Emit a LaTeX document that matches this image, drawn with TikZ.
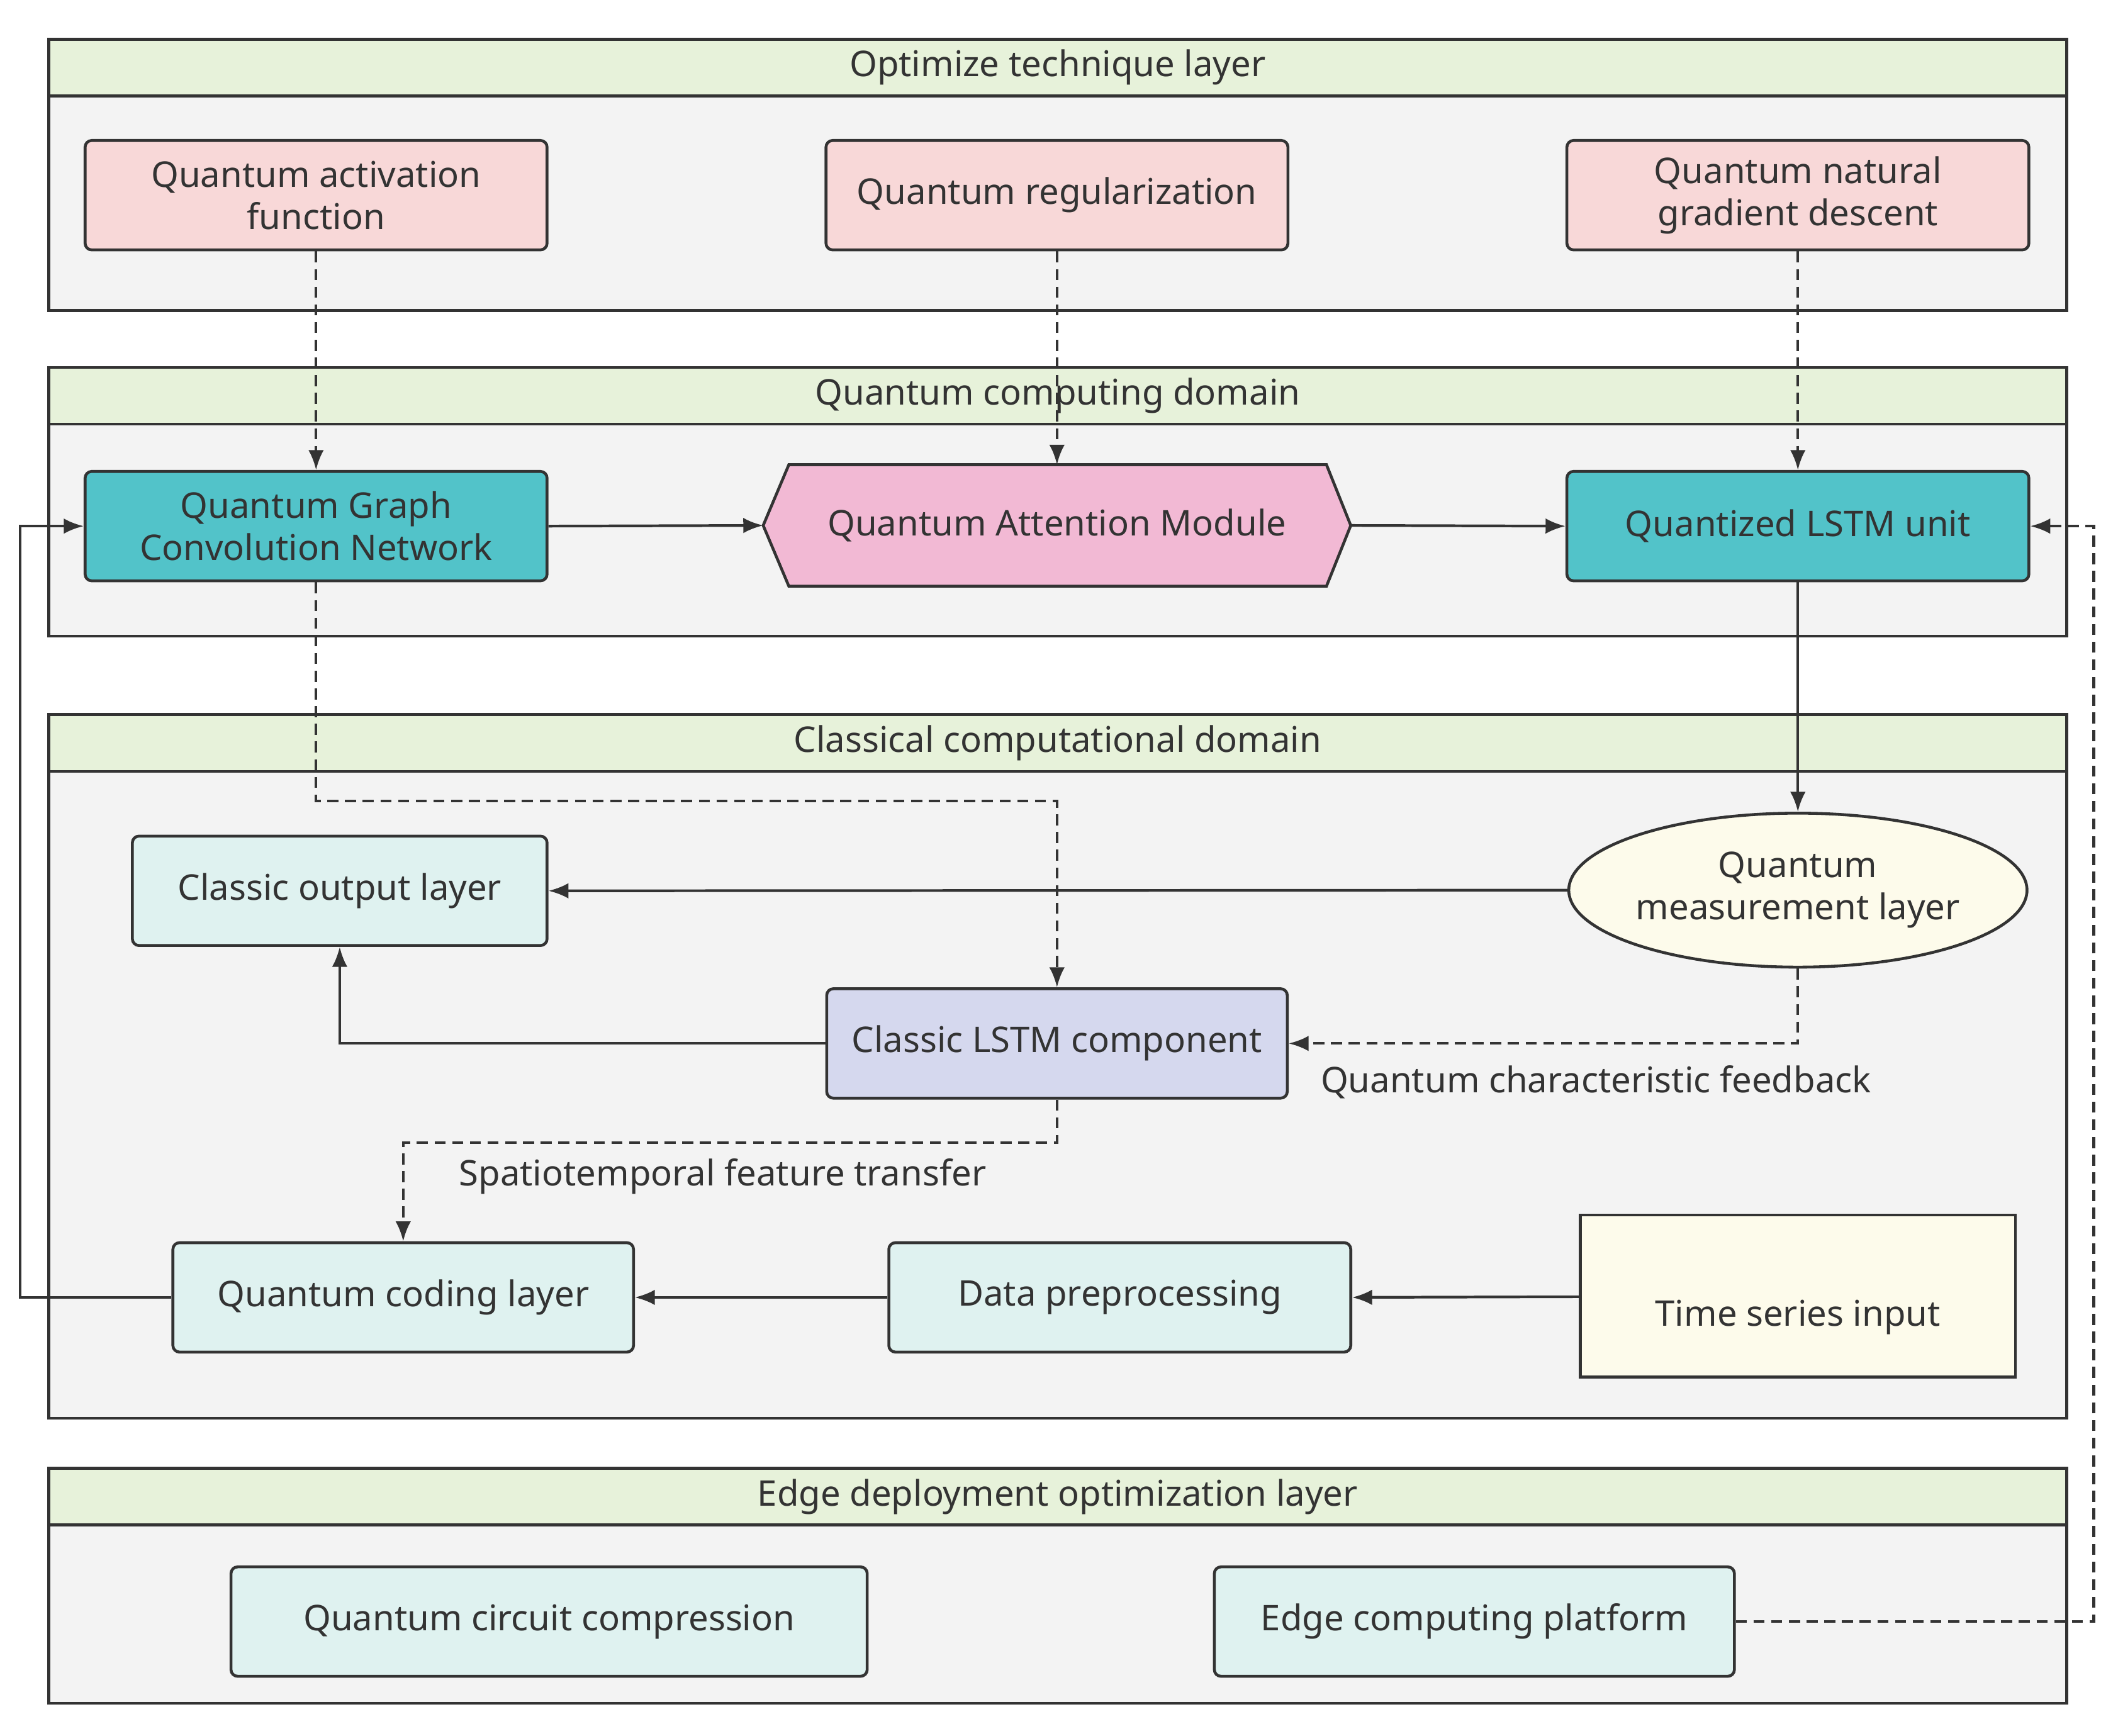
\documentclass[tikz,border=0pt]{standalone}
\usepackage{fontspec}
\setmainfont{Noto Sans}
\usetikzlibrary{shapes.geometric,arrows.meta}
\def\u{0.021467cm}
\definecolor{bgc}{HTML}{F3F3F3}
\definecolor{hdr}{HTML}{E7F2DA}
\definecolor{pinkb}{HTML}{F8D8D8}
\definecolor{tealb}{HTML}{52C3C9}
\definecolor{hexc}{HTML}{F2B9D4}
\definecolor{cyanb}{HTML}{DFF2F0}
\definecolor{cream}{HTML}{FDFBEB}
\definecolor{lav}{HTML}{D5D8EE}
\definecolor{ln}{HTML}{333333}
\begin{document}
\begin{tikzpicture}[x=\u,y=-\u,
  every node/.style={font=\fontsize{16}{19}\selectfont, text=ln},
  bx/.style={draw=ln, line width=1.3pt, rounded corners=3pt, minimum height=81*\u, align=center, inner sep=2pt},
  layer/.style={draw=ln, line width=1.3pt, fill=bgc},
  hd/.style={draw=ln, line width=1.3pt, fill=hdr},
  con/.style={draw=ln, line width=1.2pt, -{Latex[length=9pt,width=7pt]}},
  dcon/.style={con, dashed, dash pattern=on 5pt off 3pt}]
\useasboundingbox (0,0) rectangle (1568,1285);
\fill[white] (0,0) rectangle (1568,1285);
% layers
\foreach \a/\b/\c in {29/71/230, 272/314/471, 529/571/1050, 1087/1129/1261}{
  \draw[layer] (36,\a) rectangle (1530,\c);
  \draw[hd] (36,\a) rectangle (1530,\b);}
\node (h1) at (783,50) {Optimize technique layer};
\node (h2) at (783,293) {Quantum computing domain};
\node (h3) at (783,550) {Classical computational domain};
\node (h4) at (783,1108) {Edge deployment optimization layer};
% layer 1
\node[bx, fill=pinkb, minimum width=342*\u] (qaf) at (234,144.5) {Quantum activation\\function};
\node[bx, fill=pinkb, minimum width=342*\u] (qreg) at (782.5,144.5) {Quantum regularization};
\node[bx, fill=pinkb, minimum width=342*\u] (qngd) at (1331,144.5) {Quantum natural\\gradient descent};
% layer 2
\node[bx, fill=tealb, minimum width=342*\u] (qgcn) at (234,389.5) {Quantum Graph\\Convolution Network};
\node[bx, fill=tealb, minimum width=342*\u] (qlstm) at (1331,389.5) {Quantized LSTM unit};
\draw[fill=hexc, draw=ln, line width=1.3pt] (565,389) -- (584,344) -- (982,344) -- (1000,389) -- (982,434) -- (584,434) -- cycle;
\node (qam) at (782.5,389) {Quantum Attention Module};
\coordinate (qamL) at (565,389); \coordinate (qamR) at (1000,389); \coordinate (qamT) at (782.5,344);
% layer 3
\node[bx, fill=cyanb, minimum width=307*\u] (cout) at (251.5,659.5) {Classic output layer};
\node[ellipse, draw=ln, line width=1.3pt, fill=cream, minimum width=312*\u, minimum height=114*\u, align=center, inner sep=0pt] (qml) at (1331,659) {Quantum\\measurement layer};
\node[bx, fill=lav, minimum width=341*\u] (clstm) at (782.5,772.5) {Classic LSTM component};
\node[bx, fill=cyanb, minimum width=341*\u] (qcl) at (298.5,960.5) {Quantum coding layer};
\node[bx, fill=cyanb, minimum width=342*\u] (dp) at (829,960.5) {Data preprocessing};
\node[cylinder, shape border rotate=90, aspect=0.3, draw=ln, line width=1.3pt, fill=cream, minimum width=322*\u, minimum height=120*\u, inner sep=0pt] (ts) at (1331,960) {};
\node at (1331,975) {Time series input};
% layer 4
\node[bx, fill=cyanb, minimum width=471*\u] (qcc) at (406.5,1200.5) {Quantum circuit compression};
\node[bx, fill=cyanb, minimum width=385*\u] (ecp) at (1091.5,1200.5) {Edge computing platform};
% connectors
\draw[dcon] (qaf.south) -- (qgcn.north);
\draw[dcon] (qreg.south) -- (qamT);
\draw[dcon] (qngd.south) -- (qlstm.north);
\draw[con] (qgcn.east) -- (qamL);
\draw[con] (qamR) -- (qlstm.west);
\draw[con] (qlstm.south) -- (qml.north);
\draw[dcon] (qgcn.south) -- (234,593) -- (782.5,593) -- (clstm.north);
\draw[con] (qml.west) -- (cout.east);
\draw[dcon] (qml.south) -- (1331,772.5) -- (clstm.east);
\node[anchor=west] (lab1) at (972,801) {Quantum characteristic feedback};
\draw[con] (clstm.west) -- (251.5,772.5) -- (cout.south);
\draw[dcon] (clstm.south) -- (782.5,846) -- (298.5,846) -- (qcl.north);
\node (lab2) at (535,871) {Spatiotemporal feature transfer};
\draw[con] (dp.west) -- (qcl.east);
\draw[con] (ts.west) -- (dp.east);
\draw[con] (qcl.west) -- (15,960.5) -- (15,389.5) -- (qgcn.west);
\draw[dcon] (ecp.east) -- (1550,1200.5) -- (1550,389.5) -- (qlstm.east);
\end{tikzpicture}
\end{document}
